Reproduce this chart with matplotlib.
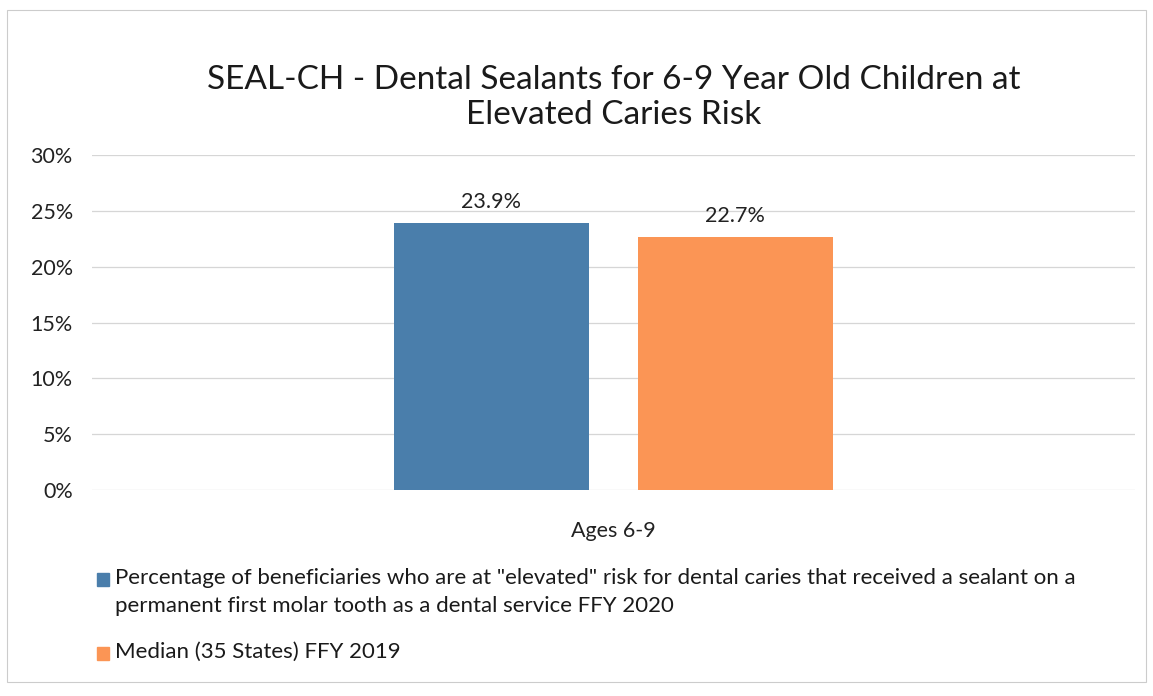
import matplotlib.pyplot as plt
import matplotlib.patches as patches
from matplotlib.ticker import PercentFormatter

# --- Data ---
categories = ['Ages 6-9']
series_names = [
    'Percentage of beneficiaries who are at "elevated" risk for dental caries that received a sealant on a\n'
    'permanent first molar tooth as a dental service FFY 2020',
    'Median (35 States) FFY 2019',
]
series_values = [23.9, 22.7]
series_labels = ['23.9%', '22.7%']
series_colors = ['#4a7eab', '#fb9555']
y_ticks = [0, 5, 10, 15, 20, 25, 30]

plt.rcParams['font.family'] = ['Lato', 'DejaVu Sans']

fig = plt.figure(figsize=(11.53, 6.96), dpi=100)
ax = fig.add_axes([0.080, 0.296, 0.904, 0.481])

# --- Bars ---
bar_w = 0.187
offsets = [-0.117, 0.117]
for i, (val, lab, col) in enumerate(zip(series_values, series_labels, series_colors)):
    x = 0 + offsets[i]
    ax.bar(x, val, width=bar_w, color=col, zorder=3)
    ax.text(x, val + 1.0, lab, ha='center', va='bottom', fontsize=15.5, color='#222222')

ax.set_xlim(-0.5, 0.5)
ax.set_ylim(0, 30)
ax.set_yticks(y_ticks)
ax.yaxis.set_major_formatter(PercentFormatter(decimals=0))
ax.set_xticks([0])
ax.set_xticklabels(categories)
ax.tick_params(axis='both', length=0, labelsize=15.5, colors='#222222')
ax.tick_params(axis='x', pad=22)
ax.tick_params(axis='y', pad=14)
ax.grid(axis='y', color='#d6d6d6', linewidth=0.9, zorder=0)
ax.grid(axis='x', visible=False)
for s in ax.spines.values():
    s.set_visible(False)

# --- Title ---
fig.text(0.532, 0.86, 'SEAL-CH - Dental Sealants for 6-9 Year Old Children at\nElevated Caries Risk',
         ha='center', va='center', fontsize=24, color='#1a1a1a', linespacing=1.2)

# --- Legend (drawn manually to match layout) ---
leg_y = [0.168, 0.062]
for name, col, y in zip(series_names, series_colors, leg_y):
    fig.patches.append(patches.Rectangle((0.084, y - 0.010), 0.0105, 0.019, color=col,
                                         transform=fig.transFigure, figure=fig))
    fig.text(0.100, y + 0.016, name, ha='left', va='top', fontsize=16,
             color='#1a1a1a', linespacing=1.5)

# chart border
fig.patches.append(patches.Rectangle((0.006, 0.02), 0.988, 0.965, fill=False, edgecolor='#cccccc',
                                     linewidth=0.8, transform=fig.transFigure, figure=fig))

fig.savefig('out.png', dpi=100)
